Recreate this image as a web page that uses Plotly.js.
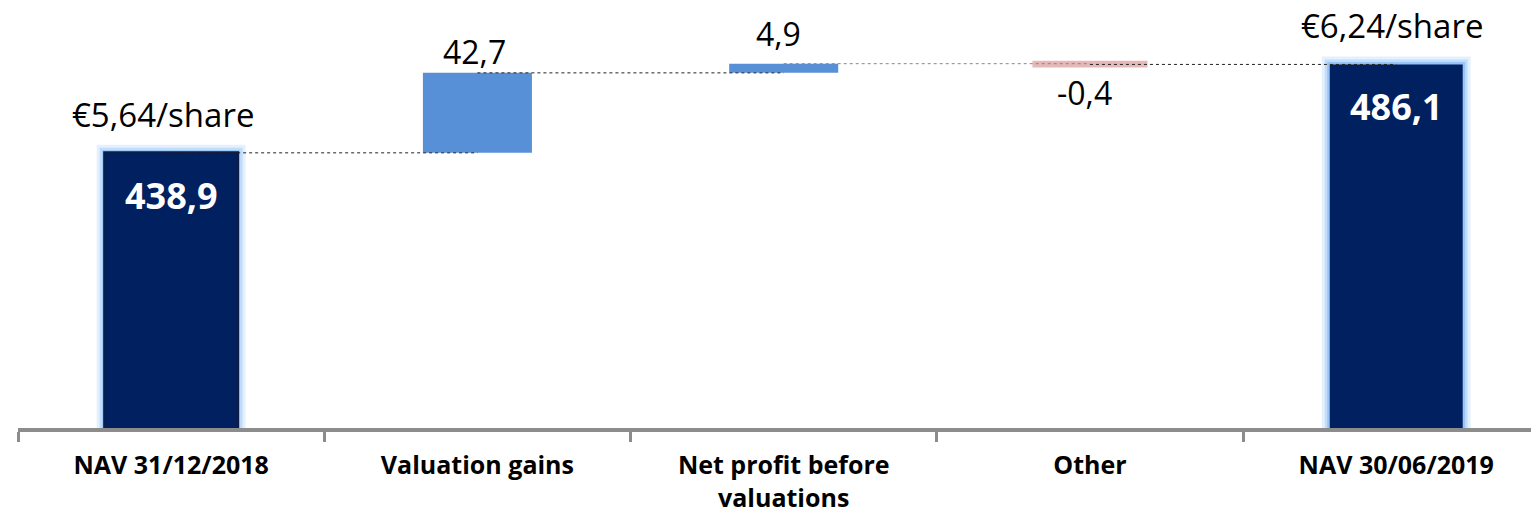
<!DOCTYPE html>
<html>
<head>
<meta charset="utf-8">
<script src="https://cdn.plot.ly/plotly-3.0.1.min.js"></script>
<style>html,body{margin:0;padding:0;background:#fff;}#chart{width:1531px;height:513px;}</style>
</head>
<body>
<div id="chart"></div>
<script>
// ---- data ----
const categories = ["NAV 31/12/2018", "Valuation gains", "Net profit before<br>valuations", "Other", "NAV 30/06/2019"];
const startNAV = 438.9;
const changes = [42.7, 4.9, -0.4];           // Valuation gains, Net profit before valuations, Other
const endNAV = 486.1;
const valueLabels = ["438,9", "42,7", "4,9", "-0,4", "486,1"];
const perShareLabels = ["€5,64/share", "€6,24/share"];

// ---- derived ----
const deltaCats = categories.slice(1, 4);
const deltaBases = [];
let run = startNAV;
changes.forEach(c => { deltaBases.push(run); run += c; });
const levels = [startNAV].concat(changes.map((c, i) => deltaBases[i] + c)); // level after each step
const totalCats = [categories[0], categories[4]];
const totalVals = [startNAV, endNAV];
const deltaColors = changes.map(c => c >= 0 ? "#5890d7" : "#e6b8b7");

const FONT = "'Open Sans', 'Noto Sans', sans-serif";
const traces = [];

// soft glow behind totals
[[16, "rgba(180,212,248,0.35)"], [10, "rgba(165,205,248,0.55)"], [5, "rgba(145,192,245,0.85)"]].forEach(g => {
  traces.push({
    type: "bar", x: totalCats, y: totalVals, base: 0, width: 0.434,
    marker: {color: g[1], line: {color: g[1], width: g[0]}},
    hoverinfo: "skip", showlegend: false
  });
});
// totals
traces.push({
  type: "bar", x: totalCats, y: totalVals, base: 0, width: 0.434,
  marker: {color: "#002060", line: {color: ["#0a1d4d", "#002060"], width: [3, 0]}},
  showlegend: false
});
// deltas
traces.push({
  type: "bar", x: deltaCats, y: changes, base: deltaBases, width: 0.356,
  marker: {color: deltaColors, line: {color: deltaColors, width: changes.map(c => Math.abs(c) < 1 ? 6 : 0)}},
  showlegend: false
});

// connectors (center of bar to center of next bar)
const connColors = ["#222", "#222", "#888", "#222"];
for (let i = 0; i < 4; i++) {
  traces.push({
    type: "scatter", mode: "lines", x: [categories[i], categories[i + 1]], y: [levels[i], levels[i]],
    line: {color: connColors[i], width: 1, dash: "dot"}, hoverinfo: "skip", showlegend: false
  });
}

const annotations = [];
// per-share labels above totals
annotations.push({x: categories[0], y: startNAV, text: perShareLabels[0], showarrow: false, yanchor: "bottom", yshift: 14, xshift: -8, font: {family: FONT, size: 33, color: "#000"}});
annotations.push({x: categories[4], y: endNAV, text: perShareLabels[1], showarrow: false, yanchor: "bottom", yshift: 14, xshift: -4, font: {family: FONT, size: 33, color: "#000"}});
// values inside totals
annotations.push({x: categories[0], y: startNAV, text: "<b>" + valueLabels[0] + "</b>", showarrow: false, yanchor: "top", yshift: -16, font: {family: FONT, size: 36, color: "#fff"}});
annotations.push({x: categories[4], y: endNAV, text: "<b>" + valueLabels[4] + "</b>", showarrow: false, yanchor: "top", yshift: -16, font: {family: FONT, size: 36, color: "#fff"}});
// delta labels
changes.forEach((c, i) => {
  const top = deltaBases[i] + Math.max(c, 0);
  const bot = deltaBases[i] + Math.min(c, 0);
  if (c >= 0) {
    annotations.push({x: deltaCats[i], y: top, text: valueLabels[i + 1], showarrow: false, yanchor: "bottom", yshift: i === 1 ? 7 : -2, xshift: i === 1 ? -5 : -3, font: {family: FONT, size: 32, color: "#000"}});
  } else {
    annotations.push({x: deltaCats[i], y: bot, text: valueLabels[i + 1], showarrow: false, yanchor: "top", yshift: -5, xshift: -5, font: {family: FONT, size: 32, color: "#000"}});
  }
});

const layout = {
  width: 1531, height: 513,
  margin: {l: 18, r: 0, t: 0, b: 85},
  paper_bgcolor: "#fff", plot_bgcolor: "#fff",
  barmode: "overlay",
  showlegend: false,
  xaxis: {
    type: "category", categoryorder: "array", categoryarray: categories,
    range: [-0.5, 4.44],
    showline: true, linecolor: "#8c8c8c", linewidth: 4,
    ticks: "outside", tickson: "boundaries", ticklen: 10, tickwidth: 3, tickcolor: "#8c8c8c",
    ticklabelstandoff: 12,
    showgrid: false, zeroline: false,
    tickfont: {family: FONT, size: 25, color: "#000", weight: "bold"},
    fixedrange: true
  },
  yaxis: {visible: false, range: [292, 520.5], showgrid: false, zeroline: false, fixedrange: true},
  annotations: annotations,
  font: {family: FONT}
};

Plotly.newPlot("chart", traces, layout, {displayModeBar: false, staticPlot: true});
</script>
</body>
</html>
